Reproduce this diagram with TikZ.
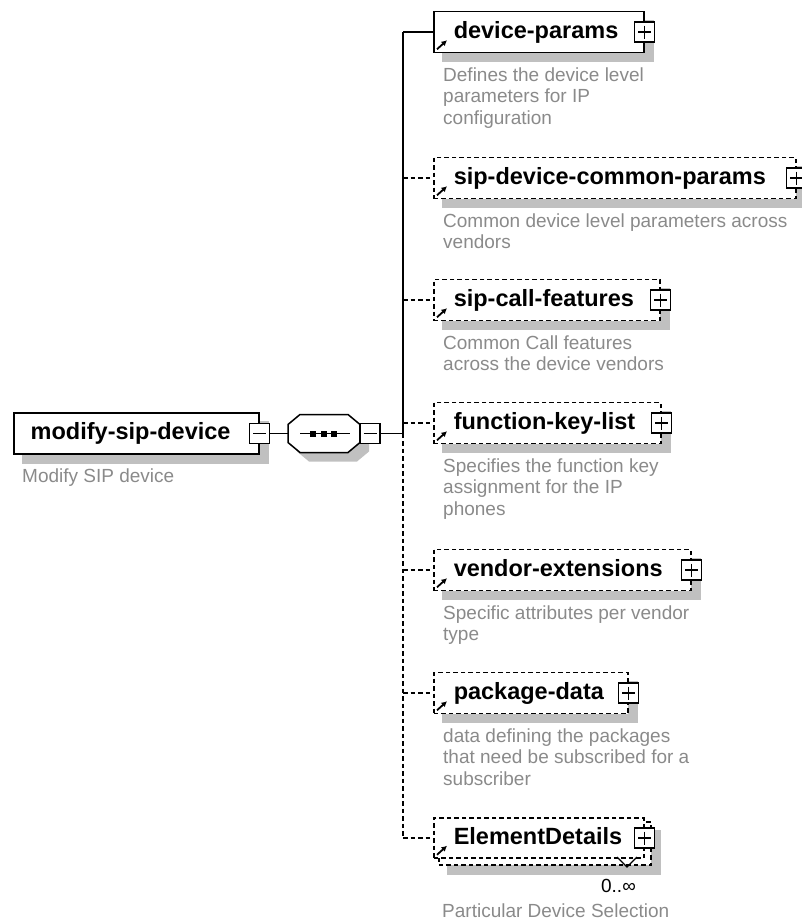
\documentclass[tikz,border=0pt]{standalone}
\usepackage{fontspec}
\setmainfont{Liberation Sans}
\usetikzlibrary{arrows.meta,calc}
\pgfdeclarelayer{bg}
\pgfsetlayers{bg,main}
\definecolor{descgray}{RGB}{138,138,138}
\definecolor{shadowgray}{RGB}{192,192,192}
\newcommand\elbl[2]{\makebox[#1pt][l]{\hspace*{20pt}#2}}
\begin{document}
\begin{tikzpicture}[x=1pt,y=-1pt,
  elbox/.style={draw, fill=white, line width=1.5pt, minimum height=41pt, inner sep=0pt, anchor=west, text height=17pt, text depth=5pt, font=\fontsize{23.5}{26}\selectfont\bfseries},
  optbox/.style={elbox, dash pattern=on 4.5pt off 3pt},
  pmbox/.style={draw, solid, fill=white, line width=1.4pt, minimum size=20pt, inner sep=0pt},
  plusbox/.style={pmbox, path picture={\draw[line width=1.4pt] ([xshift=3.5pt]path picture bounding box.west) -- ([xshift=-3.5pt]path picture bounding box.east) ([yshift=-3.5pt]path picture bounding box.north) -- ([yshift=3.5pt]path picture bounding box.south);}},
  minusbox/.style={pmbox, path picture={\draw[line width=1.4pt] ([xshift=3.5pt]path picture bounding box.west) -- ([xshift=-3.5pt]path picture bounding box.east);}},
  desc/.style={anchor=north west, inner sep=0pt, align=left, text=descgray, font=\fontsize{19}{21.5}\selectfont},
  conn/.style={line width=1.5pt},
  optconn/.style={conn, dash pattern=on 4.5pt off 3pt},
  refarrow/.style={line width=1.8pt, -{Latex[length=5.5pt,width=6pt]}},
  shadow/.style={fill=shadowgray}
]
\useasboundingbox (0,0) rectangle (801,921);

% root element
\node[elbox] (root) at (13,433.5) {\makebox[245pt][l]{\hspace*{17pt}modify-sip-device}};
\node[minusbox] (rootm) at (root.east) {};
\node[desc] (rootd) at (22,469) {Modify SIP device};

% sequence compositor
\node[minimum width=72pt, minimum height=38pt, inner sep=0pt] (seq) at (324,433.5) {};
\begin{scope}[shift={(seq.center)}]
  \filldraw[fill=white, line width=1.5pt] (-36,-9) -- (-24,-19) -- (24,-19) -- (36,-9) -- (36,9) -- (24,19) -- (-24,19) -- (-36,9) -- cycle;
  \draw[line width=1.5pt] (-24,0) -- (26,0);
  \fill (-14,-3) rectangle (-8,3);
  \fill (-3,-3) rectangle (3,3);
  \fill (7,-3) rectangle (13,3);
\end{scope}
\node[minusbox] (seqm) at (370,433.5) {};

% children
\node[elbox] (dp) at (433,32) {\elbl{210}{device-params}};
\node[optbox] (scp) at (433,178) {\elbl{362}{sip-device-common-params}};
\node[optbox] (scf) at (433,300) {\elbl{226}{sip-call-features}};
\node[optbox] (fkl) at (433,423) {\elbl{227}{function-key-list}};
\node[optbox] (ve) at (433,570) {\elbl{257}{vendor-extensions}};
\node[optbox] (pd) at (433,693) {\elbl{194}{package-data}};
\node[optbox, minimum height=43pt, minimum width=212pt] (edb) at (438,843.5) {};
\node[optbox, minimum height=40pt] (ed) at (433,838) {\elbl{210}{ElementDetails}};

\foreach \n in {dp,scp,scf,fkl,ve,pd,ed}{
  \node[plusbox] (\n x) at (\n.east) {};
  \draw[refarrow] ($(\n.south west)+(4,-4)$) -- ($(\n.south west)+(14,-13)$);
}

% occurrence mark
\draw[line width=1.2pt] (617,857) -- (627,867) -- (637,857);
\node[anchor=base east, inner sep=0pt, font=\fontsize{19}{21.5}\selectfont] (edocc) at (636,892) {0..∞};

% descriptions
\node[desc] (dpd) at (443,67.5) {Defines the device level\\parameters for IP\\configuration};
\node[desc] (scpd) at (443,213.5) {Common device level parameters across\\vendors};
\node[desc] (scfd) at (443,335.5) {Common Call features\\across the device vendors};
\node[desc] (fkld) at (443,458.5) {Specifies the function key\\assignment for the IP\\phones};
\node[desc] (ved) at (443,605.5) {Specific attributes per vendor\\type};
\node[desc] (pdd) at (443,728.5) {data defining the packages\\that need be subscribed for a\\subscriber};
\node[desc, anchor=base west] (edd) at (442,917) {Particular Device Selection};

% connectors
\coordinate (tx) at (403,0);
\draw[conn] (rootm.east) -- (seq.west);
\draw[conn] (seqm.east) -- (seqm.east -| tx);
\draw[conn] (tx |- dp.west) -- (tx |- seqm.east);
\draw[optconn] (tx |- seqm.east) -- (tx |- ed.west);
\draw[conn] (tx |- dp.west) -- (dp.west);
\foreach \n in {scp,scf,fkl,ve,pd,ed}{
  \draw[optconn] (tx |- \n.west) -- (\n.west);
}

% shadows
\begin{pgfonlayer}{bg}
\foreach \n in {root,dp,scp,scf,fkl,ve,pd,edb}{
  \fill[shadow] ($(\n.north west)+(9,9)$) rectangle ($(\n.south east)+(9,9)$);
}
\begin{scope}[shift={(seq.center)}, shift={(9,9)}]
  \fill[shadow] (-36,-9) -- (-24,-19) -- (24,-19) -- (36,-9) -- (36,9) -- (24,19) -- (-24,19) -- (-36,9) -- cycle;
\end{scope}
\end{pgfonlayer}
\end{tikzpicture}
\end{document}
